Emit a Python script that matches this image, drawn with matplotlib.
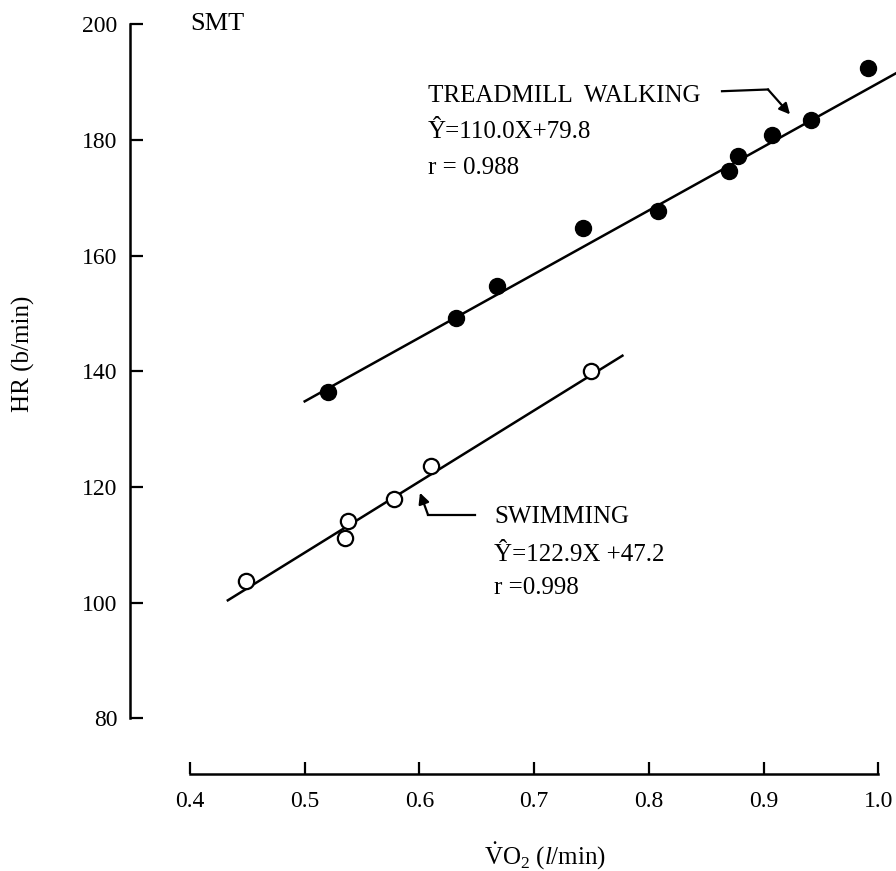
import matplotlib.pyplot as plt
import numpy as np

# treadmill walking (filled circles)
tread_vo2 = [0.520, 0.632, 0.668, 0.743, 0.808, 0.870, 0.878, 0.907, 0.941, 0.991]
tread_hr = [136.5, 149.2, 154.7, 164.7, 167.7, 174.6, 177.2, 180.8, 183.4, 192.4]
# swimming (open circles)
swim_vo2 = [0.449, 0.535, 0.538, 0.578, 0.610, 0.750]
swim_hr = [103.7, 111.1, 114.2, 118.0, 123.6, 140.0]

# regression lines: slope, intercept, x range
tread_fit = (110.0, 79.8, 0.50, 1.02)
swim_fit = (122.9, 47.2, 0.433, 0.777)

x_ticks = [0.4, 0.5, 0.6, 0.7, 0.8, 0.9, 1.0]
x_labels = ['0.4', '0.5', '0.6', '0.7', '0.8', '0.9', '1.0']
y_ticks = [80, 100, 120, 140, 160, 180, 200]

plt.rcParams['font.family'] = ['Liberation Serif', 'DejaVu Serif']
plt.rcParams['mathtext.fontset'] = 'custom'
plt.rcParams['mathtext.rm'] = 'Liberation Serif'
plt.rcParams['mathtext.it'] = 'Liberation Serif:italic'

fig = plt.figure(figsize=(8.96, 8.71), dpi=100)
# axes box: left spine at x=130px, bottom line at y=774px, top at y=5px
ax = fig.add_axes([130 / 896, 97 / 871, 766 / 896, 769 / 871])
ax.set_xlim(0.3477, 1.0155)
ax.set_ylim(70.4, 203.3)

# fitted lines
for slope, icpt, x0, x1 in [tread_fit, swim_fit]:
    xs = np.array([x0, x1])
    ax.plot(xs, slope * xs + icpt, color='black', lw=1.8, zorder=2)

ax.plot(tread_vo2, tread_hr, 'o', color='black', ms=11.5, zorder=3)
ax.plot(swim_vo2, swim_hr, 'o', mfc='white', mec='black', mew=1.6, ms=11, zorder=3)

# spines / axes like the printed figure
for side in ['top', 'right']:
    ax.spines[side].set_visible(False)
ax.spines['left'].set_bounds(80, 200)
ax.spines['bottom'].set_bounds(0.4, 1.0)
ax.spines['left'].set_linewidth(1.8)
ax.spines['bottom'].set_linewidth(1.8)
ax.set_xticks(x_ticks)
ax.set_xticklabels(x_labels)
ax.set_yticks(y_ticks)
ax.tick_params(direction='in', length=9, width=1.6, labelsize=17)
ax.tick_params(axis='y', pad=9)
ax.tick_params(axis='x', pad=12)

fig.text(23 / 896, 1 - 354 / 871, 'HR (b/min)', rotation=90, ha='center', va='center', fontsize=18)
fig.text(545 / 896, 1 - 856 / 871, r'$\dot{\mathrm{V}}\mathrm{O}_{2}\ (l/\mathrm{min})$',
         ha='center', va='center', fontsize=18)

ax.text(0.4, 200.0, 'SMT', fontsize=19, va='center', ha='left')

# treadmill label + arrow
ax.text(0.6075, 187.5, 'TREADMILL  WALKING', fontsize=18, va='center')
ax.text(0.6075, 181.3, 'Ŷ=110.0X+79.8', fontsize=18, va='center')
ax.text(0.6075, 175.2, 'r = 0.988', fontsize=18, va='center')
ax.plot([0.8638, 0.9039], [188.4, 188.7], color='black', lw=1.6)
ax.annotate('', xy=(0.9231, 184.4), xytext=(0.9039, 188.7),
            arrowprops=dict(arrowstyle='-|>', color='black', lw=1.6, mutation_scale=16,
                            shrinkA=0, shrinkB=0))

# swimming label + arrow
ax.text(0.665, 114.9, 'SWIMMING', fontsize=18, va='center')
ax.text(0.665, 108.3, 'Ŷ=122.9X +47.2', fontsize=18, va='center')
ax.text(0.665, 102.6, 'r =0.998', fontsize=18, va='center')
ax.plot([0.6485, 0.6075], [115.2, 115.2], color='black', lw=1.6)
ax.annotate('', xy=(0.6005, 119.0), xytext=(0.6075, 115.2),
            arrowprops=dict(arrowstyle='-|>', color='black', lw=1.6, mutation_scale=16,
                            shrinkA=0, shrinkB=0))

fig.savefig('out.png', dpi=100)
